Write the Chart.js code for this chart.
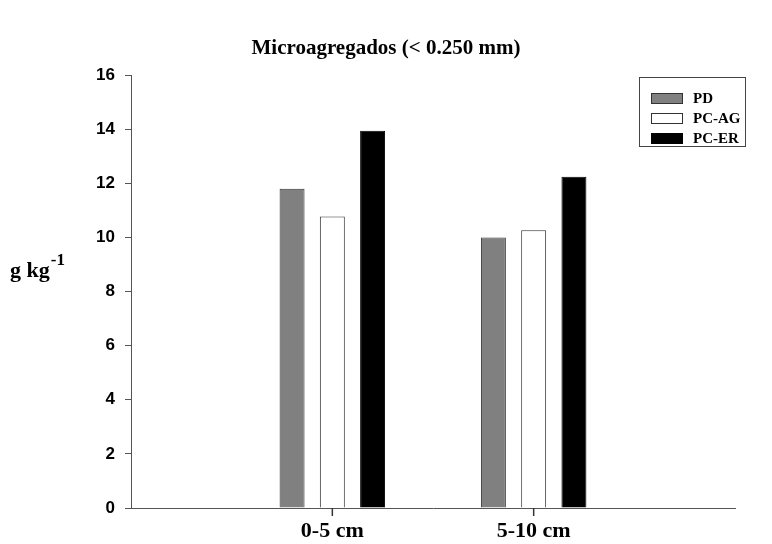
<!DOCTYPE html>
<html>
<head>
<meta charset="utf-8">
<script src="https://cdn.jsdelivr.net/npm/chart.js@4.4.0/dist/chart.umd.min.js"></script>
<style>
  html, body { margin: 0; padding: 0; background: #fff; }
  #wrap { width: 772px; height: 544px; }
</style>
</head>
<body>
<div id="wrap"><canvas id="microChart"></canvas></div>
<script>
// depth classes; the blank ends give the wide margins on both sides of the x axis
var depths = ["", "0-5 cm", "5-10 cm", ""];
var pdValues = [null, 11.8, 10.0, null];
var pcAgValues = [null, 10.78, 10.27, null];
var pcErValues = [null, 13.95, 12.25, null];
var yTicks = [0, 2, 4, 6, 8, 10, 12, 14, 16];

var serif = "'Liberation Serif', 'Times New Roman', serif";
var sans = "'Liberation Sans', Arial, sans-serif";

// boxed legend in the upper right, the horizontal y title and x tick marks
var extras = {
  id: 'extras',
  afterDraw: function(chart) {
    var c = chart.ctx;
    var xs = chart.scales.x;
    var axisY = chart.chartArea.bottom;
    c.save();
    // short tick marks under the two depth classes only
    c.strokeStyle = '#333';
    c.lineWidth = 1.5;
    depths.forEach(function(d, i) {
      if (d === '') return;
      var px = xs.getPixelForValue(i);
      c.beginPath();
      c.moveTo(px, axisY);
      c.lineTo(px, axisY + 8);
      c.stroke();
    });

    // y axis title with superscript
    c.fillStyle = '#000';
    c.textBaseline = 'alphabetic';
    c.font = 'bold 22px ' + serif;
    c.fillText('g kg', 10, 277);
    var w = c.measureText('g kg').width;
    c.font = 'bold 17px ' + serif;
    c.fillText('-1', 10 + w + 1, 265);

    // legend
    c.strokeStyle = '#444';
    c.lineWidth = 1;
    c.strokeRect(639.5, 77.5, 106, 69);
    c.font = 'bold 15px ' + serif;
    c.textBaseline = 'middle';
    chart.data.datasets.forEach(function(ds, k) {
      var y = 98 + k * 20;
      c.fillStyle = ds.backgroundColor;
      c.fillRect(651, y - 5, 32, 11);
      c.strokeStyle = ds.borderColor;
      c.strokeRect(651.5, y - 4.5, 31, 10);
      c.fillStyle = '#000';
      c.fillText(ds.label, 693, y + 1);
    });
    c.restore();
  }
};

var ctx = document.getElementById('microChart').getContext('2d');
var microChart = new Chart(ctx, {
  type: 'bar',
  data: {
    labels: depths,
    datasets: [
      { label: 'PD', data: pdValues, backgroundColor: '#808080', borderColor: '#333', borderWidth: 1 },
      { label: 'PC-AG', data: pcAgValues, backgroundColor: '#ffffff', borderColor: '#333', borderWidth: 1 },
      { label: 'PC-ER', data: pcErValues, backgroundColor: '#000000', borderColor: '#000', borderWidth: 1 }
    ]
  },
  options: {
    responsive: true,
    maintainAspectRatio: false,
    animation: false,
    layout: { padding: { left: 37, right: 37, top: 0, bottom: 0 } },
    datasets: {
      bar: { categoryPercentage: 0.6, barPercentage: 0.62, skipNull: false }
    },
    plugins: {
      legend: { display: false },
      tooltip: { enabled: false },
      title: {
        display: true,
        text: 'Microagregados (< 0.250 mm)',
        color: '#000',
        font: { family: serif, size: 21, weight: 'bold' },
        padding: { top: 36, bottom: 14 }
      }
    },
    scales: {
      x: {
        offset: false,
        border: { display: true, color: '#555', width: 1 },
        grid: { offset: false, display: false },
        ticks: {
          color: '#000',
          padding: 2,
          maxRotation: 0,
          autoSkip: false,
          font: { family: serif, size: 22, weight: 'bold' }
        },
        afterFit: function(scale) { scale.height = 36; }
      },
      y: {
        min: 0,
        max: 16,
        afterBuildTicks: function(scale) {
          scale.ticks = yTicks.map(function(v) { return { value: v }; });
        },
        border: { display: true, color: '#555', width: 1 },
        grid: { drawOnChartArea: false, drawTicks: true, tickLength: 6, tickColor: '#555' },
        ticks: {
          color: '#000',
          padding: 10,
          font: { family: sans, size: 17, weight: 'bold' }
        },
        afterFit: function(scale) { scale.width = 94; }
      }
    }
  },
  plugins: [extras]
});
</script>
</body>
</html>
